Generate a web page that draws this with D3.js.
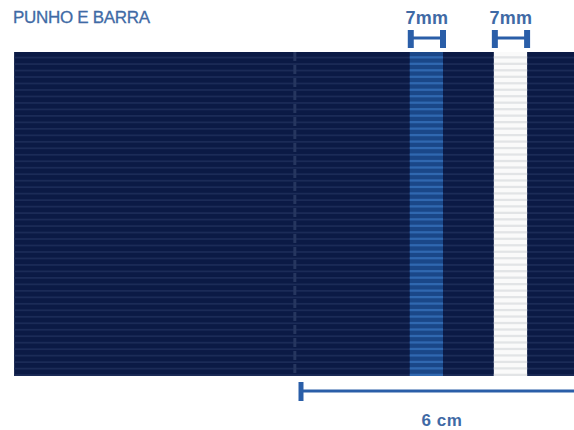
<!DOCTYPE html>
<html>
<head>
<meta charset="utf-8">
<script src="https://cdn.jsdelivr.net/npm/d3@7"></script>
<style>
html, body { margin: 0; padding: 0; background: #fff; overflow: hidden; }
text { font-family: "Liberation Sans", Arial, sans-serif; }
</style>
</head>
<body>
<div class="chart"></div>
<script>
// positions along the cuff in mm, 0 is the start of the 6 cm bracket
const fabricExtent = [-60.4, 60];
const stripeNames = ["azul", "branco"];
const stripeStarts = [22.9, 40.6];
const stripeWidths = [7, 7];
const stripeLabels = ["7mm", "7mm"];
const stripeBase = ["#1a4788", "#fafafa"];
const stripeRib = ["#3068b0", "#e2e4e6"];
const foldAt = [-1.3];
const ribs = d3.range(50);
const totalLabel = "6 cm";
const totalLength = 60;
const title = "PUNHO E BARRA";

let width = 574, height = 430;

let svg = d3.select(".chart")
    .append("svg")
    .attr("width", width)
    .attr("height", height)
    .style("display", "block");

let xScale = d3.scaleLinear().domain([0, 60]).range([301, 586]);
let yScale = d3.scaleBand().domain(ribs).range([52, 376]);
let ribH = yScale.bandwidth();

// fabric
svg.append("rect")
    .attr("x", xScale(fabricExtent[0]))
    .attr("y", yScale.range()[0])
    .attr("width", xScale(fabricExtent[1]) - xScale(fabricExtent[0]))
    .attr("height", yScale.range()[1] - yScale.range()[0])
    .attr("fill", "#0b1a45");

svg.selectAll(".rib")
    .data(ribs)
    .enter()
    .append("rect")
    .attr("class", "rib")
    .attr("x", xScale(fabricExtent[0]))
    .attr("y", d => yScale(d) + ribH * 0.72)
    .attr("width", xScale(fabricExtent[1]) - xScale(fabricExtent[0]))
    .attr("height", ribH * 0.28)
    .attr("fill", "#1b2b57");

// stripes
stripeNames.forEach((name, i) => {
    let g = svg.append("g").attr("class", "stripe-" + name);
    let x0 = xScale(stripeStarts[i]);
    let w = xScale(stripeStarts[i] + stripeWidths[i]) - x0;
    g.append("rect")
        .attr("x", x0)
        .attr("y", yScale.range()[0])
        .attr("width", w)
        .attr("height", yScale.range()[1] - yScale.range()[0])
        .attr("fill", stripeBase[i]);
    g.selectAll("rect.r")
        .data(ribs)
        .enter()
        .append("rect")
        .attr("class", "r")
        .attr("x", x0)
        .attr("y", d => yScale(d) + ribH * 0.65)
        .attr("width", w)
        .attr("height", ribH * 0.35)
        .attr("fill", stripeRib[i]);

    // 7mm bracket
    let b = svg.append("g").attr("stroke", "#2a5ea8").attr("fill", "none");
    b.append("line").attr("x1", x0).attr("x2", x0 + w).attr("y1", 38).attr("y2", 38).attr("stroke-width", 3);
    b.append("line").attr("x1", x0 + 1).attr("x2", x0 + 1).attr("y1", 30).attr("y2", 48).attr("stroke-width", 6);
    b.append("line").attr("x1", x0 + w).attr("x2", x0 + w).attr("y1", 30).attr("y2", 48).attr("stroke-width", 6);

    svg.append("text")
        .attr("x", x0 + w / 2 + 0.5)
        .attr("y", 24)
        .attr("text-anchor", "middle")
        .attr("font-size", 18)
        .attr("font-weight", "bold")
        .attr("letter-spacing", "0.3")
        .attr("fill", "#3f6aa5")
        .text(stripeLabels[i]);
});

// fold line
svg.selectAll(".fold")
    .data(foldAt)
    .enter()
    .append("line")
    .attr("class", "fold")
    .attr("x1", d => xScale(d))
    .attr("x2", d => xScale(d))
    .attr("y1", yScale.range()[0])
    .attr("y2", yScale.range()[1])
    .attr("stroke", "#26365f")
    .attr("stroke-width", 3)
    .attr("stroke-dasharray", "9 4");

// 6 cm bracket
svg.append("line")
    .attr("x1", xScale(0))
    .attr("x2", xScale(totalLength))
    .attr("y1", 391)
    .attr("y2", 391)
    .attr("stroke", "#2a5ea8")
    .attr("stroke-width", 3);
svg.append("line")
    .attr("x1", xScale(0))
    .attr("x2", xScale(0))
    .attr("y1", 382)
    .attr("y2", 401)
    .attr("stroke", "#2a5ea8")
    .attr("stroke-width", 5);

svg.append("text")
    .attr("x", 442)
    .attr("y", 426)
    .attr("text-anchor", "middle")
    .attr("font-size", 17)
    .attr("font-weight", "bold")
    .attr("letter-spacing", "0.6")
    .attr("fill", "#3f6aa5")
    .text(totalLabel);

svg.append("text")
    .attr("x", 13)
    .attr("y", 23)
    .attr("font-size", 17)
    .attr("letter-spacing", "-0.3")
    .attr("stroke", "#3f6aa5")
    .attr("stroke-width", 0.3)
    .attr("fill", "#3f6aa5")
    .text(title);
</script>
</body>
</html>
